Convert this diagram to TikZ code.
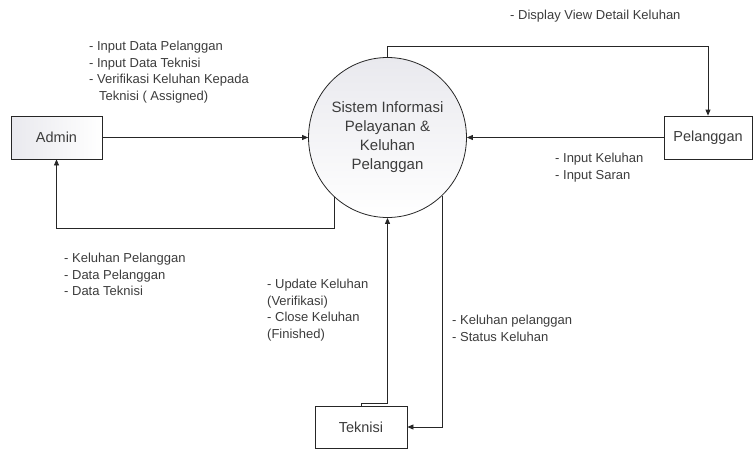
\documentclass[tikz,border=0pt]{standalone}
\usepackage{fontspec}
\setmainfont{Liberation Sans}
\usetikzlibrary{arrows.meta,shapes.geometric}
\definecolor{ink}{HTML}{3C3C3C}
\definecolor{edge}{HTML}{262626}
\definecolor{paleA}{HTML}{E9E9EE}
\tikzset{
  entity/.style={draw=edge, line width=0.8pt, rectangle, inner sep=0pt,
    minimum width=91pt, minimum height=43pt, text=ink,
    font=\fontsize{14.5}{17}\selectfont},
  process/.style={draw=edge, line width=0.8pt, ellipse, inner sep=0pt,
    minimum width=142pt, minimum height=160pt, text=ink, align=center,
    top color=paleA, bottom color=white,
    font=\fontsize{15}{19}\selectfont},
  flow/.style={draw=edge, line width=0.8pt, -{Triangle[length=6pt,width=5pt]}},
  % anchored at the baseline of the last line of each label
  note/.style={text=ink, align=left, inner sep=0pt, anchor=base west,
    font=\fontsize{13}{16.6}\selectfont}
}
\begin{document}
\begin{tikzpicture}[x=1pt,y=-1pt]
  \useasboundingbox (0,0) rectangle (754,450);

  % external entities and the central process
  \node[entity, left color=paleA, right color=white] (admin) at (56.5,137.5) {Admin};
  \node[entity, fill=white, minimum width=88pt] (pel) at (708,137.5) {Pelanggan};
  \node[entity, fill=white, minimum width=92pt, minimum height=42pt] (tek) at (361,427) {Teknisi};
  \node[process] (sys) at (387.5,137.5) {Sistem Informasi\\Pelayanan \&\\Keluhan\\Pelanggan};

  % routing levels for the elbow connectors
  \coordinate (ytop) at (0,46);
  \coordinate (ylow) at (0,228);
  \coordinate (ytek) at (0,403);

  % data flows
  \draw[flow] (admin.east) -- (sys.west);
  \draw[flow] (pel.west) -- (sys.east);
  \draw[flow] (sys.north) |- (pel.north |- ytop) -- (pel.north);
  \draw[flow] (sys.228) |- (admin.south |- ylow) -- (admin.south);
  \draw[flow] (tek.north) -- (tek.north |- ytek) -| (sys.south);
  \draw[flow] (sys.313) |- (tek.east);

  % flow labels
  \node[note] (lblAdminIn) at (89,100.3) {- Input Data Pelanggan\\- Input Data Teknisi\\- Verifikasi Keluhan Kepada\\\hspace*{10pt}Teknisi ( Assigned)};
  \node[note] (lblAdminOut) at (64,295.7) {- Keluhan Pelanggan\\- Data Pelanggan\\- Data Teknisi};
  \node[note] (lblPelOut) at (510,19.5) {- Display View Detail Keluhan};
  \node[note] (lblPelIn) at (555,179.1) {- Input Keluhan\\- Input Saran};
  \node[note] (lblTekIn) at (267,338.3) {- Update Keluhan\\(Verifikasi)\\- Close Keluhan\\(Finished)};
  \node[note] (lblTekOut) at (452,341.1) {- Keluhan pelanggan\\- Status Keluhan};
\end{tikzpicture}
\end{document}
